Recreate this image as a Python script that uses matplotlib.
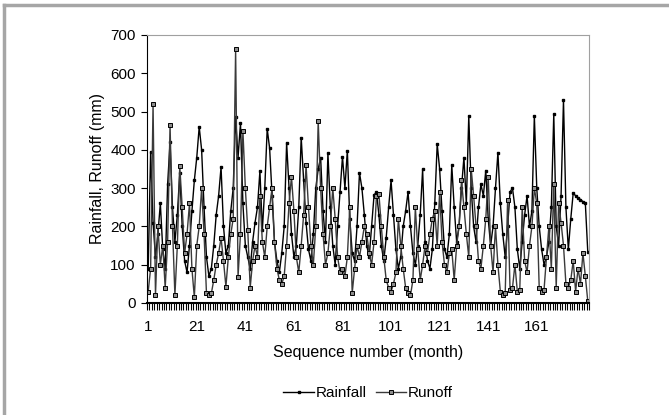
import numpy as np
import matplotlib
matplotlib.use("Agg")
import matplotlib.pyplot as plt
from matplotlib.lines import Line2D

plt.rcParams["font.family"] = ["Liberation Sans", "DejaVu Sans"]

# Monthly rainfall (mm)
rainfall = [
    90, 395, 210, 120, 180, 260, 140, 90, 310, 420,
    250, 160, 230, 340, 200, 110, 80, 150, 240, 320,
    380, 460, 400, 250, 120, 70, 90, 150, 230, 280,
    355, 200, 130, 150, 240, 300, 485, 380, 470, 260,
    150, 120, 90, 160, 210, 250, 345, 190, 300, 455,
    404, 280, 160, 110, 80, 130, 200, 419, 300, 180,
    120, 150, 250, 432, 320, 210, 140, 110, 180, 300,
    350, 380, 240, 160, 391, 250, 150, 100, 200, 290,
    382, 300, 398, 220, 130, 110, 200, 340, 300, 230,
    150, 120, 200, 282, 290, 230, 150, 110, 170, 250,
    320, 230, 140, 90, 120, 200, 240, 290, 200, 130,
    100, 150, 230, 349, 160, 110, 90, 140, 260, 415,
    350, 240, 140, 120, 180, 360, 250, 160, 200, 300,
    380, 260, 488, 300, 200, 160, 250, 310, 280, 346,
    220, 150, 200, 300, 393, 260, 180, 120, 200, 290,
    300, 250, 140, 90, 160, 230, 280, 200, 240, 488,
    300, 200, 140, 100, 120, 160, 250, 493, 200, 150,
    280, 530, 250, 140, 220, 287, 280, 275, 270, 265,
    260, 134,
]

# Monthly runoff (mm)
runoff = [
    30, 90, 520, 20, 200, 100, 150, 40, 160, 465,
    200, 20, 150, 358, 250, 130, 180, 260, 90, 15,
    150, 200, 300, 180, 25, 20, 25, 60, 100, 130,
    170, 110, 43, 120, 180, 220, 663, 69, 180, 450,
    300, 190, 40, 110, 150, 120, 280, 160, 120, 200,
    250, 300, 160, 90, 60, 50, 70, 150, 260, 330,
    240, 120, 80, 150, 230, 360, 250, 150, 100, 200,
    476, 300, 180, 100, 130, 200, 300, 220, 120, 80,
    90, 70, 120, 250, 26, 90, 150, 120, 160, 200,
    180, 130, 100, 160, 280, 285, 200, 120, 60, 40,
    30, 50, 80, 220, 150, 90, 40, 25, 20, 60,
    250, 140, 60, 100, 150, 130, 180, 220, 240, 150,
    290, 160, 100, 80, 130, 140, 60, 150, 200, 320,
    250, 180, 120, 350, 280, 200, 110, 90, 150, 220,
    330, 150, 80, 200, 100, 30, 20, 25, 270, 35,
    40, 100, 30, 35, 250, 110, 80, 150, 200, 300,
    260, 40, 30, 35, 120, 200, 90, 310, 40, 260,
    210, 150, 50, 40, 60, 110, 30, 90, 50, 130,
    70, 5,
]

months = np.arange(1, len(rainfall) + 1)
tick_months = [1, 21, 41, 61, 81, 101, 121, 141, 161]

fig = plt.figure(figsize=(6.69, 4.15), dpi=100)
ax = fig.add_axes([0.2197, 0.2699, 0.6607, 0.6458])

ax.plot(months, rainfall, color="black", lw=1.0, marker="s", ms=1.8,
        mfc="black", mec="black", label="Rainfall")
ax.plot(months, runoff, color="#3a3a3a", lw=1.0, marker="s", ms=3.0,
        mfc="#8c8c8c", mec="black", mew=0.7, label="Runoff")

ax.set_xlim(0.5, len(months) + 0.5)
ax.set_ylim(0, 700)
ax.set_yticks(range(0, 701, 100))
ax.set_xticks(tick_months)
ax.set_xticks(np.arange(0.5, len(months) + 1, 1), minor=True)
ax.tick_params(axis="x", which="major", length=0, labelsize=11, pad=12)
ax.tick_params(axis="x", which="minor", length=5, width=0.8)
ax.tick_params(axis="y", length=4, labelsize=11, pad=4)

for side in ["top", "right"]:
    ax.spines[side].set_color("#a0a0a0")
for side in ["left", "bottom"]:
    ax.spines[side].set_color("black")
ax.spines["bottom"].set_linewidth(1.5)

ax.set_xlabel("Sequence number (month)", fontsize=11.5, labelpad=8)
ax.set_ylabel("Rainfall, Runoff (mm)", fontsize=11.5, labelpad=4)

leg = ax.legend(loc="upper center", bbox_to_anchor=(0.5, -0.26), ncol=2,
                frameon=False, fontsize=11, handlelength=2.0,
                columnspacing=0.6, handletextpad=0.1)

# grey frame edges at top and left of the picture
fig.add_artist(Line2D([0.006, 1.0], [0.988, 0.988], color="#a6a6a6", lw=2.5,
                      transform=fig.transFigure))
fig.add_artist(Line2D([0.006, 0.006], [0.0, 0.988], color="#a6a6a6", lw=2.5,
                      transform=fig.transFigure))

fig.savefig("out.png", dpi=100)
